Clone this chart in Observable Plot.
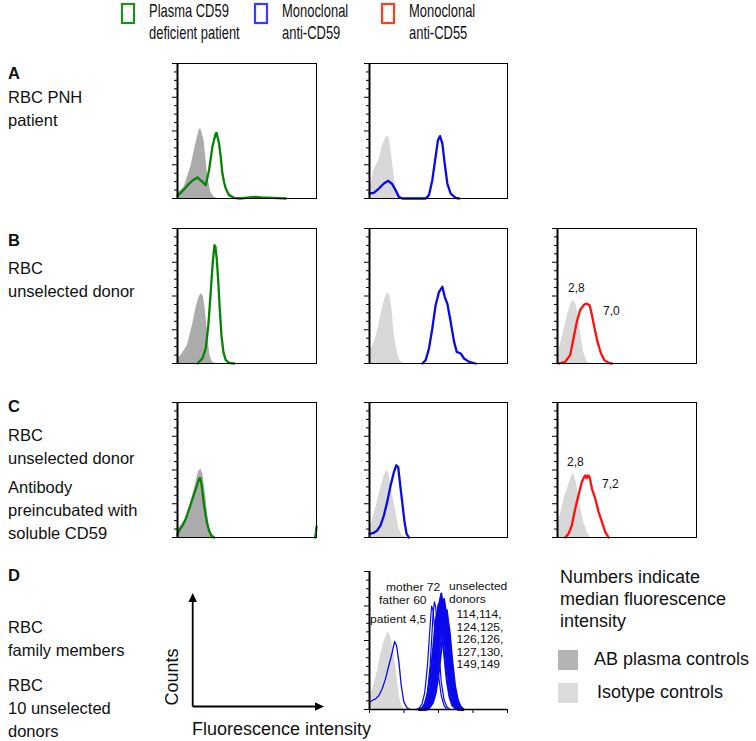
<!DOCTYPE html>
<html><head><meta charset="utf-8">
<script src="https://cdn.jsdelivr.net/npm/d3@7"></script>
<script src="https://cdn.jsdelivr.net/npm/@observablehq/plot@0.6"></script>
<style>
body{margin:0;background:#fff;}
#fig{position:relative;width:756px;height:741px;overflow:hidden;background:#fff;}
</style></head><body><div id="fig"></div><script>
// ---------- data (x: fluorescence channel 0-100, y: counts 0-100) ----------
const yMinorTicks = [6.25, 12.5, 18.75, 31.25, 37.5, 43.75, 56.25, 62.5, 68.75, 81.25, 87.5, 93.75];
const yMajorTicks = [0, 25, 50, 75, 100];
const xTicksD = [0, 25, 50, 75, 100];

const A1_ctrl = [[0,2],[0.5,4],[4.8,8.6],[9.6,23.5],[13.2,40.7],[15.6,50.6],[16.7,51.9],[19.1,43.2],[20.3,30.9],[21.5,18.5],[22.7,11.1],[23.9,4.9],[26.3,1.2],[28.7,0]];
const A1_plasma = [[0,2],[2,4],[5,7],[8.4,11.1],[11,13.5],[14.4,15.6],[16,14],[17.9,12.3],[20.3,9.9],[22.7,21],[25.1,38.3],[27.5,48.1],[28.2,48.6],[29.9,40.7],[31.1,30.9],[32.3,18.5],[33.5,12],[34.7,7.4],[37.1,2.5],[40.7,0.5],[45,0],[52,0.8],[56,1.2],[60,0.8],[66,0.6],[72,0.3],[78,0]];
const A2_ctrl = [[0,6],[0.7,8.6],[3.1,21],[6.8,28.4],[9.2,38.3],[11.6,44.4],[12.8,46.2],[14,45.7],[15.3,38.3],[16.5,28.4],[17.7,18.5],[18.9,8.6],[20.1,2.5],[21.3,0.5],[22.5,0]];
const A2_cd59 = [[0,3.7],[3.1,4.2],[6.8,7.4],[10.4,11.1],[13.6,13.1],[16.5,10.6],[18.9,6.2],[21.3,1.2],[23.7,0],[40.7,0],[43.1,2.5],[45.5,13.6],[47.9,30.9],[49.6,43.2],[51.1,46.2],[52.8,40.7],[54.5,25.9],[56.4,11.1],[58.8,3.7],[62.5,0.5],[64.9,0]];

const B1_ctrl = [[0,2],[0.5,3.7],[3.6,7.4],[7.2,13.6],[10.8,28.4],[13.2,40.7],[15.6,49.4],[17.2,51.9],[18.7,49.4],[19.9,40.7],[21.1,28.4],[22.2,16],[23.4,6.2],[25.1,1.2],[27.5,0]];
const B1_plasma = [[14.4,0],[17.9,3.7],[20.3,11.1],[22.2,28.4],[23.9,53.1],[25.4,75.3],[26.6,87.7],[27.3,86.4],[28.2,77.8],[29.2,63],[30.4,40.7],[31.6,21],[33,8.6],[34.7,2.5],[37.1,0.5],[40.7,0]];
const B2_ctrl = [[0,11.1],[1.9,12.3],[4.4,18.5],[6.8,28.4],[9.2,40.7],[11.6,49.4],[13.3,52.3],[14.8,50.6],[16.5,38.3],[17.7,23.5],[19.6,11.1],[21.3,3.7],[23.7,0.5],[25,0]];
const B2_cd59 = [[38.3,0],[40.7,2.5],[43.1,11.1],[45.5,25.9],[47.9,43.2],[50.4,53.1],[52.8,56.8],[54.5,49.4],[56.4,44.4],[58.8,30.9],[61.3,16],[63.2,8.6],[66.1,7.4],[68.5,3.7],[72.2,1.2],[77,0]];
const B3_ctrl = [[0,6],[0.7,8.6],[3.1,18.5],[5.5,28.4],[7.9,38.3],[10.3,45.7],[11.5,46.9],[13.5,43.2],[15.1,33.3],[16.8,21],[18.8,8.6],[21.2,1.2],[23.6,0]];
const B3_cd55 = [[0.7,0],[5.5,1.2],[9.1,6.2],[11.5,18.5],[13.9,30.9],[16.3,39.5],[18.8,43.2],[20.4,44.4],[23.1,43.2],[24.8,35.8],[26.7,25.9],[28.8,16],[31.3,7.4],[33.7,2.5],[36.8,0.5],[39.2,0]];

const C1_ctrl = [[0,4],[0.5,6.4],[3.6,10.1],[7.2,16.3],[10.3,28.7],[12.7,38.6],[15.1,48.5],[16.7,51],[18.2,47.3],[20.3,31.2],[21.5,18.8],[22.7,8.9],[23.9,2.7],[25.1,0]];
const C1_plasma = [[0,2],[0.5,4],[3.6,8.9],[6,13.9],[8.4,21.3],[10.8,28.7],[13.2,36.1],[15.6,43.6],[16.3,44],[17.2,39.9],[19.1,23.8],[21.1,11.4],[22.7,5.2],[24.4,1.5],[26.3,0]];
const C1_plasmaTail = [[99,0],[99.5,3],[100,8]];
const C2_ctrl = [[0,6],[0.7,8.9],[3.1,16.3],[5.6,26.2],[8,36.1],[10.4,44.8],[12.3,49.8],[14,47.3],[15.7,38.6],[17.7,26.2],[19.6,16.3],[21.3,6.4],[23.7,1.5],[26.2,0]];
const C2_cd59 = [[0,2.7],[3.1,3.5],[5.6,5.2],[8,8.9],[10.4,16.3],[12.8,26.2],[15.3,38.6],[17.7,48.5],[19.4,53.5],[20.8,52.2],[22,41.1],[23.7,26.2],[25.4,11.4],[26.9,2.7],[28.6,0]];
const C3_ctrl = [[0,9],[0.7,11.4],[3.1,21.3],[5.5,31.2],[7.9,38.6],[10.3,46],[11.5,47.3],[13.5,41.1],[15.1,31.2],[16.8,21.3],[18.8,11.4],[21.2,4],[23.6,0]];
const C3_cd55 = [[5.5,0],[7.9,2.7],[10.3,8.9],[12.7,21.3],[15.1,31.2],[17.5,41.1],[19.2,44.8],[20,46],[21,44],[22,46],[23.1,44.8],[24.8,36.1],[27.2,28.7],[29.6,18.8],[32,11.4],[34.4,4],[36.8,0]];

const D_ctrl = [[0,8],[0.7,10.1],[3.1,17.4],[5.6,27.1],[8,39.1],[10.4,48.8],[13.6,56.5],[15.3,52.4],[17.2,44],[18.9,31.9],[20.6,17.4],[22.5,5.3],[24.9,0]];
const D_patient = [[0,5.3],[1.9,6.5],[4.4,7.7],[6.8,10.1],[9.2,15],[11.6,22.2],[14,31.9],[16.5,41.5],[18.2,49.3],[19.6,46.4],[21.3,34.3],[23,17.4],[24.9,5.3],[27.4,1],[29.8,0]];
const D_father = [[34,0],[36,1],[38,4],[40,12],[42,32],[44,62],[45,75],[46,72],[48,50],[50,25],[52,10],[54,3],[56,0]];
const D_mother = [[36,0],[38,1],[40,4],[42,12],[44,33],[46,68],[47,78],[48,74],[50,46],[52,20],[54,7],[56,2],[58,0]];
const donorX = [36,38,40,42,44,46,48,50,52,54,56,58,60,62,64,66,68];
const donor1 = [0,1,4,11,24,43,65,74,63,41,21,9,3,1,0,0,0];
const donor2 = [0,0,2,6,15,31,54,76,77,56,32,15,6,2,0,0,0];
const donor3 = [0,0,1,4,11,26,50,74,84,70,44,22,9,3,1,0,0];
const donor4 = [0,0,1,5,13,29,52,70,78,66,42,21,9,3,1,0,0];
const donor5 = [0,0,0,2,7,18,38,62,79,78,56,32,15,6,2,0,0];
const donor6 = [0,0,1,3,8,19,37,58,73,72,52,30,14,5,2,0,0];
const donor7 = [0,0,0,1,4,11,25,47,70,80,66,41,20,8,3,1,0];
const donor8 = [0,0,0,2,5,13,27,46,64,72,61,39,20,8,3,1,0];
const donor9 = [0,0,0,1,3,8,18,35,56,71,72,52,29,13,5,2,0];
const donor10 = [0,0,0,0,2,5,12,25,43,60,70,57,35,17,7,2,0];

const rowLabels = [
  ["A", true], ["RBC PNH"], ["patient"],
  ["B", true], ["RBC"], ["unselected donor"],
  ["C", true], ["RBC"], ["unselected donor"], ["Antibody"], ["preincubated with"], ["soluble CD59"],
  ["D", true], ["RBC"], ["family members"], ["RBC"], ["10 unselected"], ["donors"]
];
const legendTop = [["Plasma CD59", "deficient patient"], ["Monoclonal", "anti-CD59"], ["Monoclonal", "anti-CD55"]];
const mfiB = ["2,8", "7,0"];
const mfiC = ["2,8", "7,2"];
const familyLabels = ["mother 72", "father 60", "patient 4,5"];
const donorLabels = ["unselected", "donors", "114,114,", "124,125,", "126,126,", "127,130,", "149,149"];
const noteLines = ["Numbers indicate", "median fluorescence", "intensity"];
const controlLabels = ["AB plasma controls", "Isotype controls"];

// ---------- styles ----------
const GREEN = "#078207", BLUE = "#0a0aeb", RED = "#ff1010";
const DARK = "#ababab", LIGHT = "#d8d8d8";
const FONT = '"Liberation Sans", Arial, Helvetica, sans-serif';

const fig = document.getElementById("fig");
const X = d => d[0], Y = d => d[1];

function addPanel(left, top, w, h, marks) {
  const mL = 8, mT = 3, mR = 3, mB = 8;
  const svg = Plot.plot({
    width: w + mL + mR, height: h + mT + mB,
    marginLeft: mL, marginTop: mT, marginRight: mR, marginBottom: mB,
    x: {domain: [0, 100], axis: null},
    y: {domain: [0, 100], axis: null},
    style: {background: "transparent", overflow: "visible"},
    marks
  });
  svg.style.position = "absolute";
  svg.style.left = (left - mL) + "px";
  svg.style.top = (top - mT) + "px";
  fig.appendChild(svg);
}
const area = (data, fill) => Plot.areaY(data, {x: X, y: Y, fill});
const line = (data, stroke, sw = 2.3) => Plot.lineY(data, {x: X, y: Y, stroke, strokeWidth: sw, strokeLinejoin: "round"});
const yAxes = () => [
  Plot.axisY(yMinorTicks, {tickSize: 3, tickFormat: () => "", label: null}),
  Plot.axisY(yMajorTicks, {tickSize: 5, tickFormat: () => "", label: null}),
  Plot.ruleX([0], {stroke: "#000", strokeWidth: 2})
];
const boxed = () => [Plot.frame({stroke: "#000", strokeWidth: 1}), ...yAxes()];

const col = [177, 369, 557], colW = [139, 138, 139];
const row = [63, 228, 402, 571], rowH = 135;

// Row A
addPanel(col[0], row[0], colW[0], rowH, [area(A1_ctrl, DARK), line(A1_plasma, GREEN), ...boxed()]);
addPanel(col[1], row[0], colW[1], rowH, [area(A2_ctrl, LIGHT), line(A2_cd59, BLUE), ...boxed()]);
// Row B
addPanel(col[0], row[1], colW[0], rowH, [area(B1_ctrl, DARK), line(B1_plasma, GREEN), ...boxed()]);
addPanel(col[1], row[1], colW[1], rowH, [area(B2_ctrl, LIGHT), line(B2_cd59, BLUE), ...boxed()]);
addPanel(col[2], row[1], colW[2], rowH, [area(B3_ctrl, LIGHT), line(B3_cd55, RED), ...boxed()]);
// Row C
addPanel(col[0], row[2], colW[0], rowH, [area(C1_ctrl, DARK), line(C1_plasma, GREEN), line(C1_plasmaTail, GREEN), ...boxed()]);
addPanel(col[1], row[2], colW[1], rowH, [area(C2_ctrl, LIGHT), line(C2_cd59, BLUE), ...boxed()]);
addPanel(col[2], row[2], colW[2], rowH, [area(C3_ctrl, LIGHT), line(C3_cd55, RED), ...boxed()]);
// Row D
const donors = [donor1, donor2, donor3, donor4, donor5, donor6, donor7, donor8, donor9, donor10];
addPanel(col[1], row[3], colW[1], 138, [
  area(D_ctrl, LIGHT),
  line(D_patient, BLUE, 1.3),
  line(D_father, BLUE, 1.2),
  line(D_mother, BLUE, 1.2),
  ...donors.map(ys => Plot.lineY(ys, {x: (d, i) => donorX[i], y: d => d, stroke: BLUE, strokeWidth: 2})),
  ...yAxes(),
  Plot.ruleY([0], {stroke: "#000", strokeWidth: 1.5}),
  Plot.axisX(xTicksD, {tickSize: 4, tickFormat: () => "", label: null})
]);

// ---------- overlay text ----------
const ov = d3.select(fig).append("svg")
  .attr("width", 756).attr("height", 741)
  .style("position", "absolute").style("left", 0).style("top", 0)
  .style("font-family", FONT).style("fill", "#111");
function txt(x, y, s, size, opt = {}) {
  const t = ov.append("text").attr("x", x).attr("y", y).attr("font-size", size).text(s);
  if (opt.bold) t.attr("font-weight", "bold");
  if (opt.sx) t.attr("transform", `translate(${x},${y}) scale(${opt.sx},1) translate(${-x},${-y})`);
  if (opt.anchor) t.attr("text-anchor", opt.anchor);
  return t;
}
// top legend
const topX = [122, 255, 382], topC = ["#1f8f1f", "#3b3bff", "#ff3d1f"];
legendTop.forEach((lines, i) => {
  ov.append("rect").attr("x", topX[i]).attr("y", 4).attr("width", 12).attr("height", 19)
    .attr("fill", "none").attr("stroke", topC[i]).attr("stroke-width", 2.2);
  lines.forEach((s, j) => txt(topX[i] + 27, 17.5 + j * 21.5, s, 18, {sx: 0.72}));
});
// row labels
const rowBase = [79, 103, 126, 246, 274, 297, 412, 441, 464, 493, 516, 539, 581, 633, 656, 691, 714, 737];
rowLabels.forEach(([s, b], i) => txt(8, rowBase[i], s, 16.5, {bold: !!b}));
// MFI labels
txt(568, 292, mfiB[0], 12); txt(603, 315, mfiB[1], 12);
txt(567, 466, mfiC[0], 12); txt(602, 488, mfiC[1], 12);
// family/donor labels in D
const small = {sx: 1.15};
txt(386, 591.5, familyLabels[0], 10.5, small);
txt(379, 604.5, familyLabels[1], 10.5, small);
txt(370, 623.5, familyLabels[2], 10.5, small);
const dlx = [449, 449, 456.5, 456.5, 456.5, 456.5, 456.5];
const dly = [590.5, 603, 618.5, 631, 643.5, 656, 668.5];
donorLabels.forEach((s, i) => txt(dlx[i], dly[i], s, 10.5, small));
// right note
noteLines.forEach((s, i) => txt(560, 583 + i * 22, s, 18));
ov.append("rect").attr("x", 558).attr("y", 650).attr("width", 20).attr("height", 20).attr("fill", "#b4b4b4");
ov.append("rect").attr("x", 558).attr("y", 683).attr("width", 20).attr("height", 20).attr("fill", "#dcdcdc");
txt(594, 665, controlLabels[0], 18);
txt(597, 698, controlLabels[1], 18);
// schematic axes
ov.append("line").attr("x1", 192.7).attr("y1", 706.5).attr("x2", 192.7).attr("y2", 600).attr("stroke", "#000").attr("stroke-width", 1.8);
ov.append("line").attr("x1", 192.7).attr("y1", 706.5).attr("x2", 316).attr("y2", 706.5).attr("stroke", "#000").attr("stroke-width", 1.8);
ov.append("path").attr("d", "M192.7,593 L188.5,602 L196.9,602 Z").attr("fill", "#000");
ov.append("path").attr("d", "M324,706.5 L315,702.3 L315,710.7 Z").attr("fill", "#000");
txt(178, 677, "Counts", 18, {anchor: "middle"}).attr("transform", "rotate(-90,178,677)");
txt(192, 735, "Fluorescence intensity", 18);
</script></body></html>
